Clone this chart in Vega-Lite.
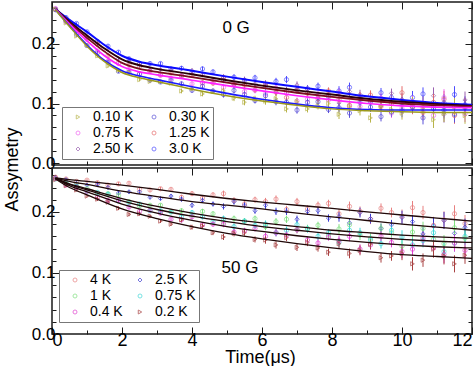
{
"$schema":"https://vega.github.io/schema/vega-lite/v6.json",
"padding":{"left":2,"top":0,"right":4,"bottom":0},
"spacing":3,
"bounds":"flush",
"config":{"font":"Liberation Sans","view":{"stroke":"#1a1a1a","strokeWidth":1.5},
"axis":{"domain":false,"grid":false,"labelFont":"Liberation Sans","labelColor":"#000","tickColor":"#1a1a1a","tickWidth":1,"titleFont":"Liberation Sans","titleFontWeight":"normal","titleColor":"#000"},
"legend":{"labelFont":"Liberation Sans","labelColor":"#000"}},
"datasets":{
"top":[
{"s":"3.0 K","t":0.1,"a":0.258,"e":0.002},{"s":"3.0 K","t":0.4,"a":0.244,"e":0.002},{"s":"3.0 K","t":0.7,"a":0.234,"e":0.002},{"s":"3.0 K","t":1,"a":0.22,"e":0.002},{"s":"3.0 K","t":1.3,"a":0.204,"e":0.003},{"s":"3.0 K","t":1.6,"a":0.196,"e":0.003},{"s":"3.0 K","t":1.9,"a":0.186,"e":0.003},{"s":"3.0 K","t":2.2,"a":0.175,"e":0.003},{"s":"3.0 K","t":2.5,"a":0.166,"e":0.003},{"s":"3.0 K","t":2.8,"a":0.167,"e":0.003},{"s":"3.0 K","t":3.1,"a":0.167,"e":0.003},{"s":"3.0 K","t":3.4,"a":0.158,"e":0.003},{"s":"3.0 K","t":3.7,"a":0.159,"e":0.004},{"s":"3.0 K","t":4,"a":0.152,"e":0.004},{"s":"3.0 K","t":4.3,"a":0.158,"e":0.004},{"s":"3.0 K","t":4.6,"a":0.153,"e":0.004},{"s":"3.0 K","t":4.9,"a":0.139,"e":0.005},{"s":"3.0 K","t":5.2,"a":0.144,"e":0.005},{"s":"3.0 K","t":5.5,"a":0.139,"e":0.005},{"s":"3.0 K","t":5.8,"a":0.143,"e":0.005},{"s":"3.0 K","t":6.1,"a":0.129,"e":0.006},{"s":"3.0 K","t":6.4,"a":0.137,"e":0.006},{"s":"3.0 K","t":6.7,"a":0.14,"e":0.006},{"s":"3.0 K","t":7,"a":0.123,"e":0.006},{"s":"3.0 K","t":7.3,"a":0.125,"e":0.006},{"s":"3.0 K","t":7.6,"a":0.129,"e":0.006},{"s":"3.0 K","t":7.9,"a":0.112,"e":0.006},{"s":"3.0 K","t":8.2,"a":0.121,"e":0.008},{"s":"3.0 K","t":8.5,"a":0.127,"e":0.008},{"s":"3.0 K","t":8.8,"a":0.109,"e":0.008},{"s":"3.0 K","t":9.1,"a":0.102,"e":0.008},{"s":"3.0 K","t":9.4,"a":0.118,"e":0.008},{"s":"3.0 K","t":9.7,"a":0.11,"e":0.008},{"s":"3.0 K","t":10,"a":0.088,"e":0.011},{"s":"3.0 K","t":10.3,"a":0.11,"e":0.011},{"s":"3.0 K","t":10.6,"a":0.116,"e":0.011},{"s":"3.0 K","t":10.9,"a":0.096,"e":0.014},{"s":"3.0 K","t":11.2,"a":0.089,"e":0.014},{"s":"3.0 K","t":11.5,"a":0.115,"e":0.014},{"s":"3.0 K","t":11.8,"a":0.098,"e":0.014},
{"s":"2.50 K","t":0.1,"a":0.257,"e":0.002},{"s":"2.50 K","t":0.4,"a":0.243,"e":0.002},{"s":"2.50 K","t":0.7,"a":0.228,"e":0.002},{"s":"2.50 K","t":1,"a":0.212,"e":0.002},{"s":"2.50 K","t":1.3,"a":0.203,"e":0.003},{"s":"2.50 K","t":1.6,"a":0.192,"e":0.003},{"s":"2.50 K","t":1.9,"a":0.175,"e":0.003},{"s":"2.50 K","t":2.2,"a":0.171,"e":0.003},{"s":"2.50 K","t":2.5,"a":0.167,"e":0.003},{"s":"2.50 K","t":2.8,"a":0.156,"e":0.003},{"s":"2.50 K","t":3.1,"a":0.157,"e":0.003},{"s":"2.50 K","t":3.4,"a":0.156,"e":0.003},{"s":"2.50 K","t":3.7,"a":0.148,"e":0.004},{"s":"2.50 K","t":4,"a":0.155,"e":0.004},{"s":"2.50 K","t":4.3,"a":0.148,"e":0.004},{"s":"2.50 K","t":4.6,"a":0.14,"e":0.004},{"s":"2.50 K","t":4.9,"a":0.144,"e":0.005},{"s":"2.50 K","t":5.2,"a":0.131,"e":0.005},{"s":"2.50 K","t":5.5,"a":0.14,"e":0.005},{"s":"2.50 K","t":5.8,"a":0.133,"e":0.005},{"s":"2.50 K","t":6.1,"a":0.133,"e":0.006},{"s":"2.50 K","t":6.4,"a":0.119,"e":0.006},{"s":"2.50 K","t":6.7,"a":0.122,"e":0.006},{"s":"2.50 K","t":7,"a":0.131,"e":0.006},{"s":"2.50 K","t":7.3,"a":0.124,"e":0.006},{"s":"2.50 K","t":7.6,"a":0.111,"e":0.006},{"s":"2.50 K","t":7.9,"a":0.116,"e":0.006},{"s":"2.50 K","t":8.2,"a":0.101,"e":0.008},{"s":"2.50 K","t":8.5,"a":0.12,"e":0.008},{"s":"2.50 K","t":8.8,"a":0.115,"e":0.008},{"s":"2.50 K","t":9.1,"a":0.103,"e":0.008},{"s":"2.50 K","t":9.4,"a":0.096,"e":0.008},{"s":"2.50 K","t":9.7,"a":0.117,"e":0.008},{"s":"2.50 K","t":10,"a":0.107,"e":0.011},{"s":"2.50 K","t":10.3,"a":0.094,"e":0.011},{"s":"2.50 K","t":10.6,"a":0.101,"e":0.011},{"s":"2.50 K","t":10.9,"a":0.113,"e":0.014},{"s":"2.50 K","t":11.2,"a":0.082,"e":0.014},{"s":"2.50 K","t":11.5,"a":0.095,"e":0.014},{"s":"2.50 K","t":11.8,"a":0.106,"e":0.014},
{"s":"1.25 K","t":0.1,"a":0.258,"e":0.002},{"s":"1.25 K","t":0.4,"a":0.241,"e":0.002},{"s":"1.25 K","t":0.7,"a":0.223,"e":0.002},{"s":"1.25 K","t":1,"a":0.21,"e":0.002},{"s":"1.25 K","t":1.3,"a":0.199,"e":0.003},{"s":"1.25 K","t":1.6,"a":0.18,"e":0.003},{"s":"1.25 K","t":1.9,"a":0.168,"e":0.003},{"s":"1.25 K","t":2.2,"a":0.165,"e":0.003},{"s":"1.25 K","t":2.5,"a":0.162,"e":0.003},{"s":"1.25 K","t":2.8,"a":0.154,"e":0.003},{"s":"1.25 K","t":3.1,"a":0.148,"e":0.003},{"s":"1.25 K","t":3.4,"a":0.151,"e":0.003},{"s":"1.25 K","t":3.7,"a":0.146,"e":0.004},{"s":"1.25 K","t":4,"a":0.147,"e":0.004},{"s":"1.25 K","t":4.3,"a":0.135,"e":0.004},{"s":"1.25 K","t":4.6,"a":0.134,"e":0.004},{"s":"1.25 K","t":4.9,"a":0.143,"e":0.005},{"s":"1.25 K","t":5.2,"a":0.132,"e":0.005},{"s":"1.25 K","t":5.5,"a":0.131,"e":0.005},{"s":"1.25 K","t":5.8,"a":0.123,"e":0.005},{"s":"1.25 K","t":6.1,"a":0.131,"e":0.006},{"s":"1.25 K","t":6.4,"a":0.119,"e":0.006},{"s":"1.25 K","t":6.7,"a":0.11,"e":0.006},{"s":"1.25 K","t":7,"a":0.123,"e":0.006},{"s":"1.25 K","t":7.3,"a":0.117,"e":0.006},{"s":"1.25 K","t":7.6,"a":0.108,"e":0.006},{"s":"1.25 K","t":7.9,"a":0.121,"e":0.006},{"s":"1.25 K","t":8.2,"a":0.107,"e":0.008},{"s":"1.25 K","t":8.5,"a":0.097,"e":0.008},{"s":"1.25 K","t":8.8,"a":0.111,"e":0.008},{"s":"1.25 K","t":9.1,"a":0.114,"e":0.008},{"s":"1.25 K","t":9.4,"a":0.095,"e":0.008},{"s":"1.25 K","t":9.7,"a":0.1,"e":0.008},{"s":"1.25 K","t":10,"a":0.118,"e":0.011},{"s":"1.25 K","t":10.3,"a":0.093,"e":0.011},{"s":"1.25 K","t":10.6,"a":0.085,"e":0.011},{"s":"1.25 K","t":10.9,"a":0.102,"e":0.014},{"s":"1.25 K","t":11.2,"a":0.107,"e":0.014},{"s":"1.25 K","t":11.5,"a":0.08,"e":0.014},{"s":"1.25 K","t":11.8,"a":0.095,"e":0.014},
{"s":"0.75 K","t":0.1,"a":0.259,"e":0.002},{"s":"0.75 K","t":0.4,"a":0.237,"e":0.002},{"s":"0.75 K","t":0.7,"a":0.222,"e":0.002},{"s":"0.75 K","t":1,"a":0.207,"e":0.002},{"s":"0.75 K","t":1.3,"a":0.188,"e":0.003},{"s":"0.75 K","t":1.6,"a":0.171,"e":0.003},{"s":"0.75 K","t":1.9,"a":0.167,"e":0.003},{"s":"0.75 K","t":2.2,"a":0.157,"e":0.003},{"s":"0.75 K","t":2.5,"a":0.15,"e":0.003},{"s":"0.75 K","t":2.8,"a":0.154,"e":0.003},{"s":"0.75 K","t":3.1,"a":0.147,"e":0.003},{"s":"0.75 K","t":3.4,"a":0.142,"e":0.003},{"s":"0.75 K","t":3.7,"a":0.146,"e":0.004},{"s":"0.75 K","t":4,"a":0.133,"e":0.004},{"s":"0.75 K","t":4.3,"a":0.134,"e":0.004},{"s":"0.75 K","t":4.6,"a":0.136,"e":0.004},{"s":"0.75 K","t":4.9,"a":0.127,"e":0.005},{"s":"0.75 K","t":5.2,"a":0.134,"e":0.005},{"s":"0.75 K","t":5.5,"a":0.12,"e":0.005},{"s":"0.75 K","t":5.8,"a":0.122,"e":0.005},{"s":"0.75 K","t":6.1,"a":0.116,"e":0.006},{"s":"0.75 K","t":6.4,"a":0.126,"e":0.006},{"s":"0.75 K","t":6.7,"a":0.117,"e":0.006},{"s":"0.75 K","t":7,"a":0.104,"e":0.006},{"s":"0.75 K","t":7.3,"a":0.107,"e":0.006},{"s":"0.75 K","t":7.6,"a":0.115,"e":0.006},{"s":"0.75 K","t":7.9,"a":0.106,"e":0.006},{"s":"0.75 K","t":8.2,"a":0.118,"e":0.008},{"s":"0.75 K","t":8.5,"a":0.095,"e":0.008},{"s":"0.75 K","t":8.8,"a":0.095,"e":0.008},{"s":"0.75 K","t":9.1,"a":0.105,"e":0.008},{"s":"0.75 K","t":9.4,"a":0.109,"e":0.008},{"s":"0.75 K","t":9.7,"a":0.084,"e":0.008},{"s":"0.75 K","t":10,"a":0.092,"e":0.011},{"s":"0.75 K","t":10.3,"a":0.103,"e":0.011},{"s":"0.75 K","t":10.6,"a":0.095,"e":0.011},{"s":"0.75 K","t":10.9,"a":0.08,"e":0.014},{"s":"0.75 K","t":11.2,"a":0.11,"e":0.014},{"s":"0.75 K","t":11.5,"a":0.095,"e":0.014},{"s":"0.75 K","t":11.8,"a":0.083,"e":0.014},
{"s":"0.30 K","t":0.1,"a":0.257,"e":0.002},{"s":"0.30 K","t":0.4,"a":0.238,"e":0.002},{"s":"0.30 K","t":0.7,"a":0.216,"e":0.002},{"s":"0.30 K","t":1,"a":0.197,"e":0.002},{"s":"0.30 K","t":1.3,"a":0.185,"e":0.003},{"s":"0.30 K","t":1.6,"a":0.169,"e":0.003},{"s":"0.30 K","t":1.9,"a":0.154,"e":0.003},{"s":"0.30 K","t":2.2,"a":0.152,"e":0.003},{"s":"0.30 K","t":2.5,"a":0.149,"e":0.003},{"s":"0.30 K","t":2.8,"a":0.139,"e":0.003},{"s":"0.30 K","t":3.1,"a":0.136,"e":0.003},{"s":"0.30 K","t":3.4,"a":0.139,"e":0.003},{"s":"0.30 K","t":3.7,"a":0.133,"e":0.004},{"s":"0.30 K","t":4,"a":0.122,"e":0.004},{"s":"0.30 K","t":4.3,"a":0.129,"e":0.004},{"s":"0.30 K","t":4.6,"a":0.121,"e":0.004},{"s":"0.30 K","t":4.9,"a":0.115,"e":0.005},{"s":"0.30 K","t":5.2,"a":0.122,"e":0.005},{"s":"0.30 K","t":5.5,"a":0.115,"e":0.005},{"s":"0.30 K","t":5.8,"a":0.105,"e":0.005},{"s":"0.30 K","t":6.1,"a":0.113,"e":0.006},{"s":"0.30 K","t":6.4,"a":0.103,"e":0.006},{"s":"0.30 K","t":6.7,"a":0.102,"e":0.006},{"s":"0.30 K","t":7,"a":0.089,"e":0.006},{"s":"0.30 K","t":7.3,"a":0.102,"e":0.006},{"s":"0.30 K","t":7.6,"a":0.103,"e":0.006},{"s":"0.30 K","t":7.9,"a":0.09,"e":0.006},{"s":"0.30 K","t":8.2,"a":0.093,"e":0.008},{"s":"0.30 K","t":8.5,"a":0.084,"e":0.008},{"s":"0.30 K","t":8.8,"a":0.102,"e":0.008},{"s":"0.30 K","t":9.1,"a":0.094,"e":0.008},{"s":"0.30 K","t":9.4,"a":0.078,"e":0.008},{"s":"0.30 K","t":9.7,"a":0.086,"e":0.008},{"s":"0.30 K","t":10,"a":0.1,"e":0.011},{"s":"0.30 K","t":10.3,"a":0.095,"e":0.011},{"s":"0.30 K","t":10.6,"a":0.076,"e":0.011},{"s":"0.30 K","t":10.9,"a":0.091,"e":0.014},{"s":"0.30 K","t":11.2,"a":0.101,"e":0.014},{"s":"0.30 K","t":11.5,"a":0.082,"e":0.014},{"s":"0.30 K","t":11.8,"a":0.093,"e":0.014},
{"s":"0.10 K","t":0.1,"a":0.258,"e":0.002},{"s":"0.10 K","t":0.4,"a":0.235,"e":0.002},{"s":"0.10 K","t":0.7,"a":0.213,"e":0.002},{"s":"0.10 K","t":1,"a":0.198,"e":0.002},{"s":"0.10 K","t":1.3,"a":0.18,"e":0.003},{"s":"0.10 K","t":1.6,"a":0.163,"e":0.003},{"s":"0.10 K","t":1.9,"a":0.156,"e":0.003},{"s":"0.10 K","t":2.2,"a":0.152,"e":0.003},{"s":"0.10 K","t":2.5,"a":0.14,"e":0.003},{"s":"0.10 K","t":2.8,"a":0.137,"e":0.003},{"s":"0.10 K","t":3.1,"a":0.137,"e":0.003},{"s":"0.10 K","t":3.4,"a":0.134,"e":0.003},{"s":"0.10 K","t":3.7,"a":0.121,"e":0.004},{"s":"0.10 K","t":4,"a":0.125,"e":0.004},{"s":"0.10 K","t":4.3,"a":0.116,"e":0.004},{"s":"0.10 K","t":4.6,"a":0.12,"e":0.004},{"s":"0.10 K","t":4.9,"a":0.121,"e":0.005},{"s":"0.10 K","t":5.2,"a":0.109,"e":0.005},{"s":"0.10 K","t":5.5,"a":0.102,"e":0.005},{"s":"0.10 K","t":5.8,"a":0.108,"e":0.005},{"s":"0.10 K","t":6.1,"a":0.104,"e":0.006},{"s":"0.10 K","t":6.4,"a":0.108,"e":0.006},{"s":"0.10 K","t":6.7,"a":0.091,"e":0.006},{"s":"0.10 K","t":7,"a":0.103,"e":0.006},{"s":"0.10 K","t":7.3,"a":0.091,"e":0.006},{"s":"0.10 K","t":7.6,"a":0.096,"e":0.006},{"s":"0.10 K","t":7.9,"a":0.1,"e":0.006},{"s":"0.10 K","t":8.2,"a":0.082,"e":0.008},{"s":"0.10 K","t":8.5,"a":0.095,"e":0.008},{"s":"0.10 K","t":8.8,"a":0.088,"e":0.008},{"s":"0.10 K","t":9.1,"a":0.076,"e":0.008},{"s":"0.10 K","t":9.4,"a":0.095,"e":0.008},{"s":"0.10 K","t":9.7,"a":0.09,"e":0.008},{"s":"0.10 K","t":10,"a":0.084,"e":0.011},{"s":"0.10 K","t":10.3,"a":0.1,"e":0.011},{"s":"0.10 K","t":10.6,"a":0.092,"e":0.011},{"s":"0.10 K","t":10.9,"a":0.073,"e":0.014},{"s":"0.10 K","t":11.2,"a":0.083,"e":0.014},{"s":"0.10 K","t":11.5,"a":0.095,"e":0.014},{"s":"0.10 K","t":11.8,"a":0.08,"e":0.014}
],
"bot":[
{"s":"4 K","t":0.1,"a":0.257,"e":0.002},{"s":"4 K","t":0.4,"a":0.254,"e":0.002},{"s":"4 K","t":0.7,"a":0.25,"e":0.002},{"s":"4 K","t":1,"a":0.252,"e":0.002},{"s":"4 K","t":1.3,"a":0.248,"e":0.003},{"s":"4 K","t":1.6,"a":0.244,"e":0.003},{"s":"4 K","t":1.9,"a":0.246,"e":0.003},{"s":"4 K","t":2.2,"a":0.247,"e":0.003},{"s":"4 K","t":2.5,"a":0.237,"e":0.003},{"s":"4 K","t":2.8,"a":0.236,"e":0.003},{"s":"4 K","t":3.1,"a":0.238,"e":0.003},{"s":"4 K","t":3.4,"a":0.237,"e":0.003},{"s":"4 K","t":3.7,"a":0.224,"e":0.004},{"s":"4 K","t":4,"a":0.23,"e":0.004},{"s":"4 K","t":4.3,"a":0.223,"e":0.004},{"s":"4 K","t":4.6,"a":0.228,"e":0.004},{"s":"4 K","t":4.9,"a":0.23,"e":0.005},{"s":"4 K","t":5.2,"a":0.219,"e":0.005},{"s":"4 K","t":5.5,"a":0.213,"e":0.005},{"s":"4 K","t":5.8,"a":0.22,"e":0.005},{"s":"4 K","t":6.1,"a":0.217,"e":0.006},{"s":"4 K","t":6.4,"a":0.221,"e":0.006},{"s":"4 K","t":6.7,"a":0.204,"e":0.006},{"s":"4 K","t":7,"a":0.217,"e":0.006},{"s":"4 K","t":7.3,"a":0.205,"e":0.006},{"s":"4 K","t":7.6,"a":0.211,"e":0.006},{"s":"4 K","t":7.9,"a":0.214,"e":0.006},{"s":"4 K","t":8.2,"a":0.197,"e":0.008},{"s":"4 K","t":8.5,"a":0.209,"e":0.008},{"s":"4 K","t":8.8,"a":0.201,"e":0.008},{"s":"4 K","t":9.1,"a":0.188,"e":0.008},{"s":"4 K","t":9.4,"a":0.206,"e":0.008},{"s":"4 K","t":9.7,"a":0.199,"e":0.008},{"s":"4 K","t":10,"a":0.193,"e":0.011},{"s":"4 K","t":10.3,"a":0.207,"e":0.011},{"s":"4 K","t":10.6,"a":0.199,"e":0.011},{"s":"4 K","t":10.9,"a":0.178,"e":0.014},{"s":"4 K","t":11.2,"a":0.187,"e":0.014},{"s":"4 K","t":11.5,"a":0.197,"e":0.014},{"s":"4 K","t":11.8,"a":0.181,"e":0.014},
{"s":"2.5 K","t":0.1,"a":0.256,"e":0.002},{"s":"2.5 K","t":0.4,"a":0.253,"e":0.002},{"s":"2.5 K","t":0.7,"a":0.247,"e":0.002},{"s":"2.5 K","t":1,"a":0.244,"e":0.002},{"s":"2.5 K","t":1.3,"a":0.245,"e":0.003},{"s":"2.5 K","t":1.6,"a":0.24,"e":0.003},{"s":"2.5 K","t":1.9,"a":0.231,"e":0.003},{"s":"2.5 K","t":2.2,"a":0.233,"e":0.003},{"s":"2.5 K","t":2.5,"a":0.233,"e":0.003},{"s":"2.5 K","t":2.8,"a":0.224,"e":0.003},{"s":"2.5 K","t":3.1,"a":0.222,"e":0.003},{"s":"2.5 K","t":3.4,"a":0.226,"e":0.003},{"s":"2.5 K","t":3.7,"a":0.221,"e":0.004},{"s":"2.5 K","t":4,"a":0.211,"e":0.004},{"s":"2.5 K","t":4.3,"a":0.219,"e":0.004},{"s":"2.5 K","t":4.6,"a":0.213,"e":0.004},{"s":"2.5 K","t":4.9,"a":0.209,"e":0.005},{"s":"2.5 K","t":5.2,"a":0.217,"e":0.005},{"s":"2.5 K","t":5.5,"a":0.211,"e":0.005},{"s":"2.5 K","t":5.8,"a":0.202,"e":0.005},{"s":"2.5 K","t":6.1,"a":0.211,"e":0.006},{"s":"2.5 K","t":6.4,"a":0.201,"e":0.006},{"s":"2.5 K","t":6.7,"a":0.201,"e":0.006},{"s":"2.5 K","t":7,"a":0.188,"e":0.006},{"s":"2.5 K","t":7.3,"a":0.201,"e":0.006},{"s":"2.5 K","t":7.6,"a":0.202,"e":0.006},{"s":"2.5 K","t":7.9,"a":0.19,"e":0.006},{"s":"2.5 K","t":8.2,"a":0.192,"e":0.008},{"s":"2.5 K","t":8.5,"a":0.182,"e":0.008},{"s":"2.5 K","t":8.8,"a":0.199,"e":0.008},{"s":"2.5 K","t":9.1,"a":0.189,"e":0.008},{"s":"2.5 K","t":9.4,"a":0.173,"e":0.008},{"s":"2.5 K","t":9.7,"a":0.179,"e":0.008},{"s":"2.5 K","t":10,"a":0.191,"e":0.011},{"s":"2.5 K","t":10.3,"a":0.184,"e":0.011},{"s":"2.5 K","t":10.6,"a":0.164,"e":0.011},{"s":"2.5 K","t":10.9,"a":0.177,"e":0.014},{"s":"2.5 K","t":11.2,"a":0.186,"e":0.014},{"s":"2.5 K","t":11.5,"a":0.165,"e":0.014},{"s":"2.5 K","t":11.8,"a":0.175,"e":0.014},
{"s":"1 K","t":0.1,"a":0.255,"e":0.002},{"s":"1 K","t":0.4,"a":0.247,"e":0.002},{"s":"1 K","t":0.7,"a":0.245,"e":0.002},{"s":"1 K","t":1,"a":0.238,"e":0.002},{"s":"1 K","t":1.3,"a":0.23,"e":0.003},{"s":"1 K","t":1.6,"a":0.23,"e":0.003},{"s":"1 K","t":1.9,"a":0.227,"e":0.003},{"s":"1 K","t":2.2,"a":0.217,"e":0.003},{"s":"1 K","t":2.5,"a":0.21,"e":0.003},{"s":"1 K","t":2.8,"a":0.211,"e":0.003},{"s":"1 K","t":3.1,"a":0.211,"e":0.003},{"s":"1 K","t":3.4,"a":0.201,"e":0.003},{"s":"1 K","t":3.7,"a":0.202,"e":0.004},{"s":"1 K","t":4,"a":0.195,"e":0.004},{"s":"1 K","t":4.3,"a":0.201,"e":0.004},{"s":"1 K","t":4.6,"a":0.197,"e":0.004},{"s":"1 K","t":4.9,"a":0.183,"e":0.005},{"s":"1 K","t":5.2,"a":0.189,"e":0.005},{"s":"1 K","t":5.5,"a":0.185,"e":0.005},{"s":"1 K","t":5.8,"a":0.189,"e":0.005},{"s":"1 K","t":6.1,"a":0.176,"e":0.006},{"s":"1 K","t":6.4,"a":0.184,"e":0.006},{"s":"1 K","t":6.7,"a":0.188,"e":0.006},{"s":"1 K","t":7,"a":0.171,"e":0.006},{"s":"1 K","t":7.3,"a":0.173,"e":0.006},{"s":"1 K","t":7.6,"a":0.178,"e":0.006},{"s":"1 K","t":7.9,"a":0.162,"e":0.006},{"s":"1 K","t":8.2,"a":0.172,"e":0.008},{"s":"1 K","t":8.5,"a":0.179,"e":0.008},{"s":"1 K","t":8.8,"a":0.162,"e":0.008},{"s":"1 K","t":9.1,"a":0.157,"e":0.008},{"s":"1 K","t":9.4,"a":0.173,"e":0.008},{"s":"1 K","t":9.7,"a":0.166,"e":0.008},{"s":"1 K","t":10,"a":0.144,"e":0.011},{"s":"1 K","t":10.3,"a":0.167,"e":0.011},{"s":"1 K","t":10.6,"a":0.173,"e":0.011},{"s":"1 K","t":10.9,"a":0.155,"e":0.014},{"s":"1 K","t":11.2,"a":0.148,"e":0.014},{"s":"1 K","t":11.5,"a":0.174,"e":0.014},{"s":"1 K","t":11.8,"a":0.157,"e":0.014},
{"s":"0.75 K","t":0.1,"a":0.254,"e":0.002},{"s":"0.75 K","t":0.4,"a":0.248,"e":0.002},{"s":"0.75 K","t":0.7,"a":0.241,"e":0.002},{"s":"0.75 K","t":1,"a":0.234,"e":0.002},{"s":"0.75 K","t":1.3,"a":0.232,"e":0.003},{"s":"0.75 K","t":1.6,"a":0.229,"e":0.003},{"s":"0.75 K","t":1.9,"a":0.218,"e":0.003},{"s":"0.75 K","t":2.2,"a":0.215,"e":0.003},{"s":"0.75 K","t":2.5,"a":0.213,"e":0.003},{"s":"0.75 K","t":2.8,"a":0.202,"e":0.003},{"s":"0.75 K","t":3.1,"a":0.202,"e":0.003},{"s":"0.75 K","t":3.4,"a":0.2,"e":0.003},{"s":"0.75 K","t":3.7,"a":0.192,"e":0.004},{"s":"0.75 K","t":4,"a":0.199,"e":0.004},{"s":"0.75 K","t":4.3,"a":0.192,"e":0.004},{"s":"0.75 K","t":4.6,"a":0.184,"e":0.004},{"s":"0.75 K","t":4.9,"a":0.189,"e":0.005},{"s":"0.75 K","t":5.2,"a":0.176,"e":0.005},{"s":"0.75 K","t":5.5,"a":0.185,"e":0.005},{"s":"0.75 K","t":5.8,"a":0.178,"e":0.005},{"s":"0.75 K","t":6.1,"a":0.18,"e":0.006},{"s":"0.75 K","t":6.4,"a":0.166,"e":0.006},{"s":"0.75 K","t":6.7,"a":0.17,"e":0.006},{"s":"0.75 K","t":7,"a":0.179,"e":0.006},{"s":"0.75 K","t":7.3,"a":0.172,"e":0.006},{"s":"0.75 K","t":7.6,"a":0.16,"e":0.006},{"s":"0.75 K","t":7.9,"a":0.166,"e":0.006},{"s":"0.75 K","t":8.2,"a":0.15,"e":0.008},{"s":"0.75 K","t":8.5,"a":0.17,"e":0.008},{"s":"0.75 K","t":8.8,"a":0.166,"e":0.008},{"s":"0.75 K","t":9.1,"a":0.154,"e":0.008},{"s":"0.75 K","t":9.4,"a":0.148,"e":0.008},{"s":"0.75 K","t":9.7,"a":0.17,"e":0.008},{"s":"0.75 K","t":10,"a":0.159,"e":0.011},{"s":"0.75 K","t":10.3,"a":0.146,"e":0.011},{"s":"0.75 K","t":10.6,"a":0.153,"e":0.011},{"s":"0.75 K","t":10.9,"a":0.166,"e":0.014},{"s":"0.75 K","t":11.2,"a":0.135,"e":0.014},{"s":"0.75 K","t":11.5,"a":0.149,"e":0.014},{"s":"0.75 K","t":11.8,"a":0.16,"e":0.014},
{"s":"0.4 K","t":0.1,"a":0.255,"e":0.002},{"s":"0.4 K","t":0.4,"a":0.244,"e":0.002},{"s":"0.4 K","t":0.7,"a":0.24,"e":0.002},{"s":"0.4 K","t":1,"a":0.234,"e":0.002},{"s":"0.4 K","t":1.3,"a":0.224,"e":0.003},{"s":"0.4 K","t":1.6,"a":0.219,"e":0.003},{"s":"0.4 K","t":1.9,"a":0.219,"e":0.003},{"s":"0.4 K","t":2.2,"a":0.208,"e":0.003},{"s":"0.4 K","t":2.5,"a":0.201,"e":0.003},{"s":"0.4 K","t":2.8,"a":0.203,"e":0.003},{"s":"0.4 K","t":3.1,"a":0.198,"e":0.003},{"s":"0.4 K","t":3.4,"a":0.188,"e":0.003},{"s":"0.4 K","t":3.7,"a":0.187,"e":0.004},{"s":"0.4 K","t":4,"a":0.192,"e":0.004},{"s":"0.4 K","t":4.3,"a":0.179,"e":0.004},{"s":"0.4 K","t":4.6,"a":0.18,"e":0.004},{"s":"0.4 K","t":4.9,"a":0.18,"e":0.005},{"s":"0.4 K","t":5.2,"a":0.167,"e":0.005},{"s":"0.4 K","t":5.5,"a":0.169,"e":0.005},{"s":"0.4 K","t":5.8,"a":0.173,"e":0.005},{"s":"0.4 K","t":6.1,"a":0.16,"e":0.006},{"s":"0.4 K","t":6.4,"a":0.166,"e":0.006},{"s":"0.4 K","t":6.7,"a":0.162,"e":0.006},{"s":"0.4 K","t":7,"a":0.171,"e":0.006},{"s":"0.4 K","t":7.3,"a":0.154,"e":0.006},{"s":"0.4 K","t":7.6,"a":0.149,"e":0.006},{"s":"0.4 K","t":7.9,"a":0.159,"e":0.006},{"s":"0.4 K","t":8.2,"a":0.153,"e":0.008},{"s":"0.4 K","t":8.5,"a":0.16,"e":0.008},{"s":"0.4 K","t":8.8,"a":0.139,"e":0.008},{"s":"0.4 K","t":9.1,"a":0.146,"e":0.008},{"s":"0.4 K","t":9.4,"a":0.16,"e":0.008},{"s":"0.4 K","t":9.7,"a":0.15,"e":0.008},{"s":"0.4 K","t":10,"a":0.135,"e":0.011},{"s":"0.4 K","t":10.3,"a":0.139,"e":0.011},{"s":"0.4 K","t":10.6,"a":0.157,"e":0.011},{"s":"0.4 K","t":10.9,"a":0.141,"e":0.014},{"s":"0.4 K","t":11.2,"a":0.13,"e":0.014},{"s":"0.4 K","t":11.5,"a":0.149,"e":0.014},{"s":"0.4 K","t":11.8,"a":0.137,"e":0.014},
{"s":"0.2 K","t":0.1,"a":0.253,"e":0.002},{"s":"0.2 K","t":0.4,"a":0.243,"e":0.002},{"s":"0.2 K","t":0.7,"a":0.236,"e":0.002},{"s":"0.2 K","t":1,"a":0.226,"e":0.002},{"s":"0.2 K","t":1.3,"a":0.221,"e":0.003},{"s":"0.2 K","t":1.6,"a":0.216,"e":0.003},{"s":"0.2 K","t":1.9,"a":0.206,"e":0.003},{"s":"0.2 K","t":2.2,"a":0.196,"e":0.003},{"s":"0.2 K","t":2.5,"a":0.197,"e":0.003},{"s":"0.2 K","t":2.8,"a":0.193,"e":0.003},{"s":"0.2 K","t":3.1,"a":0.185,"e":0.003},{"s":"0.2 K","t":3.4,"a":0.18,"e":0.003},{"s":"0.2 K","t":3.7,"a":0.187,"e":0.004},{"s":"0.2 K","t":4,"a":0.175,"e":0.004},{"s":"0.2 K","t":4.3,"a":0.177,"e":0.004},{"s":"0.2 K","t":4.6,"a":0.166,"e":0.004},{"s":"0.2 K","t":4.9,"a":0.159,"e":0.005},{"s":"0.2 K","t":5.2,"a":0.165,"e":0.005},{"s":"0.2 K","t":5.5,"a":0.166,"e":0.005},{"s":"0.2 K","t":5.8,"a":0.155,"e":0.005},{"s":"0.2 K","t":6.1,"a":0.154,"e":0.006},{"s":"0.2 K","t":6.4,"a":0.146,"e":0.006},{"s":"0.2 K","t":6.7,"a":0.158,"e":0.006},{"s":"0.2 K","t":7,"a":0.142,"e":0.006},{"s":"0.2 K","t":7.3,"a":0.15,"e":0.006},{"s":"0.2 K","t":7.6,"a":0.141,"e":0.006},{"s":"0.2 K","t":7.9,"a":0.134,"e":0.006},{"s":"0.2 K","t":8.2,"a":0.148,"e":0.008},{"s":"0.2 K","t":8.5,"a":0.132,"e":0.008},{"s":"0.2 K","t":8.8,"a":0.137,"e":0.008},{"s":"0.2 K","t":9.1,"a":0.147,"e":0.008},{"s":"0.2 K","t":9.4,"a":0.125,"e":0.008},{"s":"0.2 K","t":9.7,"a":0.128,"e":0.008},{"s":"0.2 K","t":10,"a":0.132,"e":0.011},{"s":"0.2 K","t":10.3,"a":0.115,"e":0.011},{"s":"0.2 K","t":10.6,"a":0.121,"e":0.011},{"s":"0.2 K","t":10.9,"a":0.139,"e":0.014},{"s":"0.2 K","t":11.2,"a":0.128,"e":0.014},{"s":"0.2 K","t":11.5,"a":0.115,"e":0.014},{"s":"0.2 K","t":11.8,"a":0.129,"e":0.014}
],
"topfit":[
{"s":"3.0 K","t":0.1,"f":0.258},{"s":"3.0 K","t":0.5,"f":0.24},{"s":"3.0 K","t":1,"f":0.22},{"s":"3.0 K","t":1.5,"f":0.198},{"s":"3.0 K","t":2,"f":0.18},{"s":"3.0 K","t":2.5,"f":0.17},{"s":"3.0 K","t":3,"f":0.164},{"s":"3.0 K","t":4,"f":0.155},{"s":"3.0 K","t":5,"f":0.145},{"s":"3.0 K","t":6,"f":0.136},{"s":"3.0 K","t":7,"f":0.128},{"s":"3.0 K","t":8,"f":0.12},{"s":"3.0 K","t":9,"f":0.112},{"s":"3.0 K","t":10,"f":0.106},{"s":"3.0 K","t":11,"f":0.101},{"s":"3.0 K","t":12,"f":0.098},
{"s":"2.50 K","t":0.1,"f":0.258},{"s":"2.50 K","t":0.5,"f":0.237},{"s":"2.50 K","t":1,"f":0.214},{"s":"2.50 K","t":1.5,"f":0.192},{"s":"2.50 K","t":2,"f":0.174},{"s":"2.50 K","t":2.5,"f":0.164},{"s":"2.50 K","t":3,"f":0.158},{"s":"2.50 K","t":4,"f":0.149},{"s":"2.50 K","t":5,"f":0.139},{"s":"2.50 K","t":6,"f":0.13},{"s":"2.50 K","t":7,"f":0.122},{"s":"2.50 K","t":8,"f":0.115},{"s":"2.50 K","t":9,"f":0.108},{"s":"2.50 K","t":10,"f":0.103},{"s":"2.50 K","t":11,"f":0.099},{"s":"2.50 K","t":12,"f":0.096},
{"s":"1.25 K","t":0.1,"f":0.258},{"s":"1.25 K","t":0.5,"f":0.235},{"s":"1.25 K","t":1,"f":0.21},{"s":"1.25 K","t":1.5,"f":0.187},{"s":"1.25 K","t":2,"f":0.168},{"s":"1.25 K","t":2.5,"f":0.158},{"s":"1.25 K","t":3,"f":0.153},{"s":"1.25 K","t":4,"f":0.144},{"s":"1.25 K","t":5,"f":0.135},{"s":"1.25 K","t":6,"f":0.126},{"s":"1.25 K","t":7,"f":0.118},{"s":"1.25 K","t":8,"f":0.111},{"s":"1.25 K","t":9,"f":0.105},{"s":"1.25 K","t":10,"f":0.1},{"s":"1.25 K","t":11,"f":0.097},{"s":"1.25 K","t":12,"f":0.095},
{"s":"0.75 K","t":0.1,"f":0.258},{"s":"0.75 K","t":0.5,"f":0.233},{"s":"0.75 K","t":1,"f":0.205},{"s":"0.75 K","t":1.5,"f":0.18},{"s":"0.75 K","t":2,"f":0.162},{"s":"0.75 K","t":2.5,"f":0.153},{"s":"0.75 K","t":3,"f":0.148},{"s":"0.75 K","t":4,"f":0.139},{"s":"0.75 K","t":5,"f":0.13},{"s":"0.75 K","t":6,"f":0.121},{"s":"0.75 K","t":7,"f":0.113},{"s":"0.75 K","t":8,"f":0.106},{"s":"0.75 K","t":9,"f":0.1},{"s":"0.75 K","t":10,"f":0.096},{"s":"0.75 K","t":11,"f":0.094},{"s":"0.75 K","t":12,"f":0.093},
{"s":"0.30 K","t":0.1,"f":0.257},{"s":"0.30 K","t":0.5,"f":0.23},{"s":"0.30 K","t":1,"f":0.198},{"s":"0.30 K","t":1.5,"f":0.172},{"s":"0.30 K","t":2,"f":0.155},{"s":"0.30 K","t":2.5,"f":0.146},{"s":"0.30 K","t":3,"f":0.14},{"s":"0.30 K","t":4,"f":0.128},{"s":"0.30 K","t":5,"f":0.117},{"s":"0.30 K","t":6,"f":0.107},{"s":"0.30 K","t":7,"f":0.099},{"s":"0.30 K","t":8,"f":0.093},{"s":"0.30 K","t":9,"f":0.09},{"s":"0.30 K","t":10,"f":0.089},{"s":"0.30 K","t":11,"f":0.089},{"s":"0.30 K","t":12,"f":0.089},
{"s":"0.10 K","t":0.1,"f":0.257},{"s":"0.10 K","t":0.5,"f":0.229},{"s":"0.10 K","t":1,"f":0.196},{"s":"0.10 K","t":1.5,"f":0.17},{"s":"0.10 K","t":2,"f":0.152},{"s":"0.10 K","t":2.5,"f":0.143},{"s":"0.10 K","t":3,"f":0.137},{"s":"0.10 K","t":4,"f":0.124},{"s":"0.10 K","t":5,"f":0.113},{"s":"0.10 K","t":6,"f":0.104},{"s":"0.10 K","t":7,"f":0.097},{"s":"0.10 K","t":8,"f":0.091},{"s":"0.10 K","t":9,"f":0.088},{"s":"0.10 K","t":10,"f":0.086},{"s":"0.10 K","t":11,"f":0.085},{"s":"0.10 K","t":12,"f":0.085}
],
"botfit":[
{"s":"4 K","t":0.1,"f":0.256},{"s":"4 K","t":0.5,"f":0.253},{"s":"4 K","t":1,"f":0.25},{"s":"4 K","t":2,"f":0.244},{"s":"4 K","t":3,"f":0.237},{"s":"4 K","t":4,"f":0.229},{"s":"4 K","t":5,"f":0.222},{"s":"4 K","t":6,"f":0.216},{"s":"4 K","t":7,"f":0.211},{"s":"4 K","t":8,"f":0.206},{"s":"4 K","t":9,"f":0.2},{"s":"4 K","t":10,"f":0.195},{"s":"4 K","t":11,"f":0.19},{"s":"4 K","t":12,"f":0.185},
{"s":"2.5 K","t":0.1,"f":0.256},{"s":"2.5 K","t":0.5,"f":0.25},{"s":"2.5 K","t":1,"f":0.245},{"s":"2.5 K","t":2,"f":0.234},{"s":"2.5 K","t":3,"f":0.225},{"s":"2.5 K","t":4,"f":0.217},{"s":"2.5 K","t":5,"f":0.211},{"s":"2.5 K","t":6,"f":0.205},{"s":"2.5 K","t":7,"f":0.198},{"s":"2.5 K","t":8,"f":0.192},{"s":"2.5 K","t":9,"f":0.186},{"s":"2.5 K","t":10,"f":0.18},{"s":"2.5 K","t":11,"f":0.175},{"s":"2.5 K","t":12,"f":0.17},
{"s":"1 K","t":0.1,"f":0.255},{"s":"1 K","t":0.5,"f":0.246},{"s":"1 K","t":1,"f":0.238},{"s":"1 K","t":2,"f":0.222},{"s":"1 K","t":3,"f":0.209},{"s":"1 K","t":4,"f":0.198},{"s":"1 K","t":5,"f":0.189},{"s":"1 K","t":6,"f":0.182},{"s":"1 K","t":7,"f":0.176},{"s":"1 K","t":8,"f":0.17},{"s":"1 K","t":9,"f":0.166},{"s":"1 K","t":10,"f":0.162},{"s":"1 K","t":11,"f":0.159},{"s":"1 K","t":12,"f":0.157},
{"s":"0.75 K","t":0.1,"f":0.255},{"s":"0.75 K","t":0.5,"f":0.245},{"s":"0.75 K","t":1,"f":0.236},{"s":"0.75 K","t":2,"f":0.218},{"s":"0.75 K","t":3,"f":0.204},{"s":"0.75 K","t":4,"f":0.193},{"s":"0.75 K","t":5,"f":0.184},{"s":"0.75 K","t":6,"f":0.176},{"s":"0.75 K","t":7,"f":0.17},{"s":"0.75 K","t":8,"f":0.164},{"s":"0.75 K","t":9,"f":0.159},{"s":"0.75 K","t":10,"f":0.155},{"s":"0.75 K","t":11,"f":0.152},{"s":"0.75 K","t":12,"f":0.15},
{"s":"0.4 K","t":0.1,"f":0.255},{"s":"0.4 K","t":0.5,"f":0.243},{"s":"0.4 K","t":1,"f":0.233},{"s":"0.4 K","t":2,"f":0.213},{"s":"0.4 K","t":3,"f":0.198},{"s":"0.4 K","t":4,"f":0.186},{"s":"0.4 K","t":5,"f":0.176},{"s":"0.4 K","t":6,"f":0.168},{"s":"0.4 K","t":7,"f":0.161},{"s":"0.4 K","t":8,"f":0.155},{"s":"0.4 K","t":9,"f":0.15},{"s":"0.4 K","t":10,"f":0.146},{"s":"0.4 K","t":11,"f":0.143},{"s":"0.4 K","t":12,"f":0.141},
{"s":"0.2 K","t":0.1,"f":0.254},{"s":"0.2 K","t":0.5,"f":0.24},{"s":"0.2 K","t":1,"f":0.228},{"s":"0.2 K","t":2,"f":0.205},{"s":"0.2 K","t":3,"f":0.189},{"s":"0.2 K","t":4,"f":0.176},{"s":"0.2 K","t":5,"f":0.165},{"s":"0.2 K","t":6,"f":0.156},{"s":"0.2 K","t":7,"f":0.148},{"s":"0.2 K","t":8,"f":0.141},{"s":"0.2 K","t":9,"f":0.135},{"s":"0.2 K","t":10,"f":0.13},{"s":"0.2 K","t":11,"f":0.127},{"s":"0.2 K","t":12,"f":0.124}
],
"toplab":[{"t":5.26,"a":0.227,"txt":"0 G"}],
"botlab":[{"t":5.37,"a":0.108,"txt":"50 G"}]
},
"vconcat":[
{"width":420,"height":163,
"resolve":{"axis":{"x":"independent","y":"independent"}},
"layer":[
{"data":{"name":"top"},"mark":{"type":"errorbar","thickness":1},
"encoding":{
"x":{"field":"t","type":"quantitative","scale":{"domain":[0,12],"nice":false,"zero":false},
"axis":{"values":[0,1,2,3,4,5,6,7,8,9,10,11,12],"labels":false,"title":null,"tickSize":{"condition":{"test":"datum.value % 2 === 0","value":-7},"value":-4}}},
"y":{"field":"a","type":"quantitative","scale":{"domain":[-0.003,0.27],"nice":false,"zero":false},
"axis":{"values":[0,0.02,0.04,0.06,0.08,0.1,0.12,0.14,0.16,0.18,0.2,0.22,0.24,0.26],"labelExpr":"abs(datum.value*10-round(datum.value*10))<0.001 ? format(datum.value,'.1f') : ''","labelFontSize":17,"labelPadding":4,
"tickSize":{"condition":{"test":"abs(datum.value*10-round(datum.value*10))<0.001","value":-7},"value":-4},
"title":"Assymetry","titleFontSize":18,"titleX":-40,"titleY":167,"titleAngle":-90,"titleAlign":"center","titleBaseline":"middle"}},
"yError":{"field":"e"},
"color":{"field":"s","type":"nominal","scale":{"domain":["0.10 K","0.75 K","2.50 K","0.30 K","1.25 K","3.0 K"],"range":["#b8b44a","#f064f0","#9a60b0","#5a50d8","#e66a6a","#4b4bff"]}}}},
{"data":{"name":"top"},"mark":{"type":"point","filled":false,"size":18,"strokeWidth":1},
"encoding":{
"x":{"field":"t","type":"quantitative","axis":{"orient":"top","values":[0,1,2,3,4,5,6,7,8,9,10,11,12],"labels":false,"title":null,"tickSize":{"condition":{"test":"datum.value % 2 === 0","value":-7},"value":-4}}},
"y":{"field":"a","type":"quantitative","axis":{"orient":"right","values":[0,0.02,0.04,0.06,0.08,0.1,0.12,0.14,0.16,0.18,0.2,0.22,0.24,0.26],"labels":false,"title":null,"tickSize":{"condition":{"test":"abs(datum.value*10-round(datum.value*10))<0.001","value":-7},"value":-4}}},
"color":{"field":"s","type":"nominal","scale":{"domain":["0.10 K","0.75 K","2.50 K","0.30 K","1.25 K","3.0 K"],"range":["#b8b44a","#f064f0","#9a60b0","#5a50d8","#e66a6a","#4b4bff"]},
"legend":{"orient":"none","legendX":10,"legendY":105,"columns":2,"title":null,"strokeColor":"#777","fillColor":"#fff","padding":3,"labelFontSize":14,"symbolSize":16,"symbolStrokeWidth":1,"symbolOffset":6,"rowPadding":2,"columnPadding":7,"labelOffset":8}},
"shape":{"field":"s","type":"nominal","scale":{"domain":["0.10 K","0.75 K","2.50 K","0.30 K","1.25 K","3.0 K"],"range":["triangle-right","circle","diamond","circle","circle","circle"]},
"legend":{"orient":"none","legendX":10,"legendY":105,"columns":2,"title":null,"strokeColor":"#777","fillColor":"#fff","padding":3,"labelFontSize":14,"symbolSize":16,"symbolStrokeWidth":1,"symbolOffset":6,"rowPadding":2,"columnPadding":7,"labelOffset":8}}}},
{"data":{"name":"topfit"},"mark":{"type":"line","interpolate":"monotone"},
"encoding":{"x":{"field":"t","type":"quantitative","axis":null},"y":{"field":"f","type":"quantitative","axis":null},
"stroke":{"field":"s","type":"nominal","scale":{"domain":["0.10 K","0.30 K","0.75 K","1.25 K","2.50 K","3.0 K"],"range":["#9c9a1c","#1a1aff","#ff20ff","#7a1020","#2a0008","#0a0aff"]},"legend":null},
"strokeWidth":{"field":"s","type":"ordinal","scale":{"domain":["0.10 K","0.30 K","0.75 K","1.25 K","2.50 K","3.0 K"],"range":[1.5,2,2,1.2,1.5,2.5]},"legend":null}}},
{"data":{"name":"toplab"},"mark":{"type":"text","fontSize":17,"font":"Liberation Sans","color":"#000"},
"encoding":{"x":{"field":"t","type":"quantitative","axis":null},"y":{"field":"a","type":"quantitative","axis":null},"text":{"field":"txt"}}}
]},
{"width":420,"height":166,
"resolve":{"axis":{"x":"independent","y":"independent"}},
"layer":[
{"data":{"name":"bot"},"mark":{"type":"errorbar","thickness":1},
"encoding":{
"x":{"field":"t","type":"quantitative","scale":{"domain":[0,12],"nice":false,"zero":false},
"axis":{"values":[0,1,2,3,4,5,6,7,8,9,10,11,12],"labelExpr":"datum.value % 2 === 0 ? datum.label : ''","labelFontSize":18,"labelPadding":4,"title":"Time(μs)","titleFontSize":18,"titleX":208,"titleY":23,"titleBaseline":"middle","titleAlign":"center","tickSize":{"condition":{"test":"datum.value % 2 === 0","value":-7},"value":-4}}},
"y":{"field":"a","type":"quantitative","scale":{"domain":[0,0.272],"nice":false,"zero":false},
"axis":{"values":[0,0.02,0.04,0.06,0.08,0.1,0.12,0.14,0.16,0.18,0.2,0.22,0.24,0.26],"labelExpr":"abs(datum.value*10-round(datum.value*10))<0.001 ? format(datum.value,'.1f') : ''","labelFontSize":17,"labelPadding":4,"title":null,
"tickSize":{"condition":{"test":"abs(datum.value*10-round(datum.value*10))<0.001","value":-7},"value":-4}}},
"yError":{"field":"e"},
"color":{"field":"s","type":"nominal","scale":{"domain":["4 K","1 K","0.4 K","2.5 K","0.75 K","0.2 K"],"range":["#e88080","#7fe07f","#e040d0","#3c3cd0","#40d8d8","#a84040"]}}}},
{"data":{"name":"bot"},"mark":{"type":"point","filled":false,"size":18,"strokeWidth":1},
"encoding":{
"x":{"field":"t","type":"quantitative","axis":{"orient":"top","values":[0,1,2,3,4,5,6,7,8,9,10,11,12],"labels":false,"title":null,"tickSize":{"condition":{"test":"datum.value % 2 === 0","value":-7},"value":-4}}},
"y":{"field":"a","type":"quantitative","axis":{"orient":"right","values":[0,0.02,0.04,0.06,0.08,0.1,0.12,0.14,0.16,0.18,0.2,0.22,0.24,0.26],"labels":false,"title":null,"tickSize":{"condition":{"test":"abs(datum.value*10-round(datum.value*10))<0.001","value":-7},"value":-4}}},
"color":{"field":"s","type":"nominal","scale":{"domain":["4 K","1 K","0.4 K","2.5 K","0.75 K","0.2 K"],"range":["#e88080","#7fe07f","#e040d0","#3c3cd0","#40d8d8","#a84040"]},
"legend":{"orient":"none","legendX":7,"legendY":102,"columns":2,"title":null,"strokeColor":"#777","fillColor":"#fff","padding":3,"labelFontSize":14,"symbolSize":16,"symbolStrokeWidth":1,"symbolOffset":6,"rowPadding":2,"columnPadding":4,"labelOffset":8}},
"shape":{"field":"s","type":"nominal","scale":{"domain":["4 K","1 K","0.4 K","2.5 K","0.75 K","0.2 K"],"range":["circle","circle","circle","diamond","circle","triangle-right"]},
"legend":{"orient":"none","legendX":7,"legendY":102,"columns":2,"title":null,"strokeColor":"#777","fillColor":"#fff","padding":3,"labelFontSize":14,"symbolSize":16,"symbolStrokeWidth":1,"symbolOffset":6,"rowPadding":2,"columnPadding":4,"labelOffset":8}}}},
{"data":{"name":"botfit"},"mark":{"type":"line","interpolate":"monotone","color":"#200808","strokeWidth":1.3},
"encoding":{"x":{"field":"t","type":"quantitative","axis":null},"y":{"field":"f","type":"quantitative","axis":null},"detail":{"field":"s","type":"nominal"}}},
{"data":{"name":"botlab"},"mark":{"type":"text","fontSize":17,"font":"Liberation Sans","color":"#000"},
"encoding":{"x":{"field":"t","type":"quantitative","axis":null},"y":{"field":"a","type":"quantitative","axis":null},"text":{"field":"txt"}}}
]}
],
"resolve":{"scale":{"color":"independent","shape":"independent","stroke":"independent","strokeWidth":"independent","x":"independent","y":"independent"},"legend":{"color":"independent","shape":"independent"}}
}
